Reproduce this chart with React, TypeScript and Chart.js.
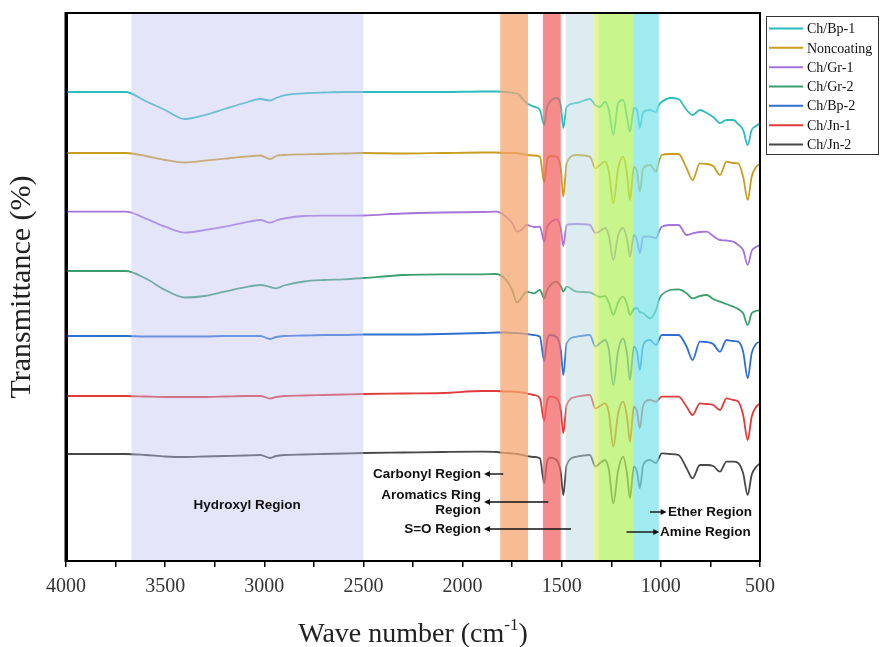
import React, { useEffect, useRef } from "react";
import { Chart, registerables } from "chart.js";
Chart.register(...registerables);

// Wave numbers (cm-1) shared by every spectrum
const waveNumbers = [
  4000, 3700, 3600, 3500, 3400, 3300, 3200, 3100, 3020, 2970,
  2940, 2900, 2800, 2700, 2600, 2500, 2300, 2100, 1900, 1830,
  1780, 1750, 1725, 1700, 1677, 1640, 1610, 1588, 1575, 1560,
  1526, 1505, 1492, 1475, 1425, 1358, 1330, 1307, 1282, 1262,
  1240, 1215, 1190, 1170, 1156, 1136, 1120, 1106, 1089, 1055,
  1024, 1010, 996, 954, 911, 870, 840, 803, 769, 736,
  702, 669, 635, 610, 585, 562, 542, 520, 500,
];

const seriesLabels = ["Ch/Bp-1", "Noncoating", "Ch/Gr-1", "Ch/Gr-2", "Ch/Bp-2", "Ch/Jn-1", "Ch/Jn-2"];
const seriesColors = ["#2bbcbf", "#c99d1f", "#a374d9", "#3b9e6c", "#2f6fcf", "#e03b3b", "#474747"];

// Offset transmittance (arbitrary units, stacked)
const chBp1 = [
  469, 469, 460, 451, 442, 446, 452, 458, 462, 460.5,
  463, 465.7, 467.7, 468.5, 469, 469, 469, 469, 469.5, 469.5,
  469, 468, 467.5, 463, 458, 454.3, 451, 436, 453, 459,
  463, 456, 433, 454, 458, 462, 456, 454, 459, 451,
  426, 458, 461, 443, 429, 453, 451, 433, 449, 451,
  449, 456, 459, 463, 462, 451, 446, 451, 448, 444,
  438, 441, 441, 437, 431, 416, 431, 435, 438,
];
const noncoating = [
  408, 408, 405, 401, 398.5, 400.3, 402.3, 404.3, 405.5, 402,
  405, 406, 406.7, 407, 407.5, 408, 407.5, 408, 408.5, 408.5,
  408, 408, 408, 407, 406, 405.5, 404.3, 378.3, 399, 405,
  404.3, 393, 364.3, 397.7, 406, 404.3, 392.7, 396, 399.3, 389,
  357.7, 393, 404.3, 386, 361, 394.3, 389, 369.3, 392.7, 396,
  389.3, 399, 406, 407, 407, 392.7, 381, 397.7, 397, 395,
  386, 399.3, 398, 397.7, 384.3, 361, 384.3, 394, 397,
];
const chGr1 = [
  349.3, 349.3, 342.7, 334.3, 328.3, 331, 334.3, 338.3, 341, 338.3,
  340.5, 342.5, 345, 345.3, 345.3, 345.5, 347.5, 348.5, 349, 349.3,
  344.3, 338, 329.3, 331.5, 336, 334, 334.3, 319.3, 333, 337.7,
  341.7, 333, 315, 336, 337, 336, 328, 330, 333, 325,
  301, 326, 333, 321, 304.3, 326, 321, 308, 324.3, 324.3,
  323, 329, 334.3, 336, 336, 326, 327.7, 329, 329.3, 325,
  321, 320.5, 319.3, 316, 311, 296, 310, 314, 316,
];
const chGr2 = [
  290, 290, 282.7, 271, 263.5, 265, 269.3, 273.7, 276, 274,
  272.7, 275.5, 279.5, 281, 281.7, 283, 286, 286.7, 286.7, 287,
  281, 271, 258.3, 264, 269.3, 267.7, 271, 262.7, 270, 275,
  279.3, 275, 269.3, 274.3, 269.3, 268.7, 266, 264, 265, 258,
  246, 259, 264.3, 256, 246, 252, 253, 249, 248, 242.7,
  251, 261, 266, 271, 271.7, 267.7, 262.7, 265, 266, 262,
  259.3, 257, 254.3, 252, 247.7, 236, 247.7, 250, 251,
];
const chBp2 = [
  225, 225, 224.5, 224.5, 224.5, 224.5, 225, 225, 225, 222,
  224, 225, 225.5, 226, 226, 226.5, 226.5, 227, 228, 228.5,
  228.5, 228, 228, 227.5, 227, 226, 224.3, 200, 219, 226,
  224, 211, 186, 217.7, 224.3, 226, 214.3, 218, 221, 211,
  176, 211, 222.7, 206, 181, 214.3, 209, 191, 216, 221,
  216, 221, 226, 226, 226, 214.3, 201, 219.3, 219, 217,
  209.3, 221, 220, 219.3, 209.3, 182.7, 207.7, 217, 219.3,
];
const chJn1 = [
  165, 165, 164.5, 164, 164, 164, 164.5, 165, 165, 162.5,
  164, 165, 165.5, 166, 166.5, 167, 167.5, 168, 170, 170,
  169.5, 169.5, 169, 168.5, 167.7, 166, 162.7, 140, 158, 164.3,
  162.7, 151, 127.7, 156, 164.3, 166, 152.7, 155, 157.7, 148,
  114.3, 148, 159.3, 143, 119.3, 154.3, 149, 132.7, 156, 161,
  159.3, 162, 164.3, 164.3, 164.3, 154.3, 146, 157.7, 157, 156,
  151, 162.7, 161, 159.3, 146, 121, 144.3, 154, 157.7,
];
const chJn2 = [
  107, 107, 106, 104.5, 104, 104.5, 105, 105.5, 106, 103,
  105, 106, 106.5, 107, 107.5, 108, 108.5, 109, 109.3, 109,
  108, 107.5, 107, 106, 105, 104, 102.7, 77.7, 98, 103.3,
  101, 89, 66, 96, 104.3, 106, 94.3, 98, 101, 91,
  57.7, 91, 104.3, 86, 62.7, 94.3, 89, 72.7, 96, 101,
  98, 103, 107.7, 107, 106, 92.7, 82.7, 96, 96, 95,
  89.3, 99.3, 99.3, 98, 87.7, 66, 86, 94, 97.7,
];
const seriesValues = [chBp1, noncoating, chGr1, chGr2, chBp2, chJn1, chJn2];

// Highlighted regions (cm-1)
const bandStarts = [3670, 1810, 1595, 1480, 1337, 1315, 1140];
const bandEnds = [2500, 1670, 1505, 1337, 1315, 1140, 1010];
const bandColors = [
  "rgba(192,192,242,0.42)",
  "rgba(244,166,112,0.75)",
  "rgba(241,100,100,0.75)",
  "rgba(185,217,225,0.5)",
  "rgba(222,240,110,0.7)",
  "rgba(176,241,91,0.7)",
  "rgba(119,226,234,0.7)",
];

// Region annotations
const annotationTexts = ["Hydroxyl Region", "Carbonyl Region", "Aromatics Ring", "Region", "S=O Region", "Ether Region", "Amine Region"];
const annotationX = [3087, 1907, 1907, 1907, 1907, 964, 1004];
const annotationY = [56, 87, 66, 51, 32, 49, 29];
const annotationAlign = ["center", "right", "right", "right", "right", "left", "left"];
const arrowFrom = [1795, 1568, 1453, 1055, 1173];
const arrowTo = [1892, 1892, 1892, 971, 1008];
const arrowY = [87, 59, 32, 49, 29];

const xMin = 500;
const xMax = 4000;
const xStep = 250;
const xLabelStep = 500;

const SERIF = "'Liberation Serif', 'Times New Roman', serif";

const overlayPlugin = {
  id: "overlay",
  afterDatasetsDraw(chart: any) {
    const { ctx, chartArea, scales } = chart;
    const xs = scales.x;
    ctx.save();
    ctx.beginPath();
    ctx.rect(chartArea.left, chartArea.top, chartArea.right - chartArea.left, chartArea.bottom - chartArea.top);
    ctx.clip();
    for (let i = 0; i < bandStarts.length; i++) {
      const a = xs.getPixelForValue(bandStarts[i]);
      const b = xs.getPixelForValue(bandEnds[i]);
      ctx.fillStyle = bandColors[i];
      ctx.fillRect(Math.min(a, b), chartArea.top, Math.abs(b - a), chartArea.bottom - chartArea.top);
    }
    ctx.restore();
  },
  afterDraw(chart: any) {
    const { ctx, chartArea, scales } = chart;
    const xs = scales.x;
    const ys = scales.y;
    ctx.save();
    // frame
    ctx.strokeStyle = "#000";
    ctx.lineWidth = 2;
    ctx.strokeRect(chartArea.left, chartArea.top, chartArea.right - chartArea.left, chartArea.bottom - chartArea.top);
    ctx.lineWidth = 3;
    ctx.beginPath();
    ctx.moveTo(chartArea.left, chartArea.top - 1);
    ctx.lineTo(chartArea.left, chartArea.bottom + 1);
    ctx.stroke();

    // annotations
    ctx.fillStyle = "#111";
    ctx.font = "bold 13.5px 'Liberation Sans', Arial, sans-serif";
    ctx.textBaseline = "middle";
    for (let i = 0; i < annotationTexts.length; i++) {
      ctx.textAlign = annotationAlign[i] as CanvasTextAlign;
      ctx.fillText(annotationTexts[i], xs.getPixelForValue(annotationX[i]), ys.getPixelForValue(annotationY[i]));
    }
    ctx.strokeStyle = "#111";
    ctx.lineWidth = 1.4;
    for (let i = 0; i < arrowFrom.length; i++) {
      const x1 = xs.getPixelForValue(arrowFrom[i]);
      const x2 = xs.getPixelForValue(arrowTo[i]);
      const y = ys.getPixelForValue(arrowY[i]);
      const dir = x2 > x1 ? 1 : -1;
      ctx.beginPath();
      ctx.moveTo(x1, y);
      ctx.lineTo(x2 - dir * 4, y);
      ctx.stroke();
      ctx.beginPath();
      ctx.moveTo(x2, y);
      ctx.lineTo(x2 - dir * 6, y - 3);
      ctx.lineTo(x2 - dir * 6, y + 3);
      ctx.closePath();
      ctx.fill();
    }

    // legend
    const lx = chartArea.right + 6;
    const ly = chartArea.top + 3;
    ctx.strokeStyle = "#333";
    ctx.lineWidth = 1;
    ctx.strokeRect(lx + 0.5, ly + 0.5, 112, 138);
    ctx.font = "14px " + SERIF;
    ctx.textAlign = "left";
    ctx.textBaseline = "middle";
    chart.data.datasets.forEach((ds: any, i: number) => {
      const y = ly + 12.5 + i * 19.33;
      ctx.strokeStyle = ds.borderColor;
      ctx.lineWidth = 2;
      ctx.beginPath();
      ctx.moveTo(lx + 3, y);
      ctx.lineTo(lx + 37, y);
      ctx.stroke();
      ctx.fillStyle = "#111";
      ctx.fillText(ds.label, lx + 41, y + 1);
    });

    // axis titles
    ctx.fillStyle = "#222";
    ctx.textBaseline = "alphabetic";
    const main = "Wave number (cm";
    const sup = "-1";
    const close = ")";
    ctx.font = "28px " + SERIF;
    const wMain = ctx.measureText(main).width;
    const wClose = ctx.measureText(close).width;
    ctx.font = "17px " + SERIF;
    const wSup = ctx.measureText(sup).width;
    const total = wMain + wSup + wClose;
    const cx = (chartArea.left + chartArea.right) / 2;
    const x0 = cx - total / 2;
    const base = 642;
    ctx.font = "28px " + SERIF;
    ctx.textAlign = "left";
    ctx.fillText(main, x0, base);
    ctx.font = "17px " + SERIF;
    ctx.fillText(sup, x0 + wMain, base - 12);
    ctx.font = "28px " + SERIF;
    ctx.fillText(close, x0 + wMain + wSup, base);

    ctx.translate(22, (chartArea.top + chartArea.bottom) / 2);
    ctx.rotate(-Math.PI / 2);
    ctx.textAlign = "center";
    ctx.textBaseline = "middle";
    ctx.font = "30px " + SERIF;
    ctx.fillText("Transmittance (%)", 0, 0);
    ctx.restore();
  },
};

export default function App() {
  const ref = useRef<HTMLCanvasElement | null>(null);
  useEffect(() => {
    document.body.style.margin = "0";
    const canvas = ref.current;
    if (!canvas) return;
    const chart = new Chart(canvas, {
      type: "line",
      data: {
        datasets: seriesLabels.map((label, i) => ({
          label,
          data: waveNumbers.map((w, j) => ({ x: w, y: seriesValues[i][j] })),
          borderColor: seriesColors[i],
          backgroundColor: seriesColors[i],
          borderWidth: 1.8,
          pointRadius: 0,
          cubicInterpolationMode: "monotone",
          fill: false,
        })),
      },
      options: {
        responsive: false,
        animation: false,
        layout: { padding: { left: 0, top: 13, right: 120, bottom: 0 } },
        plugins: { legend: { display: false }, tooltip: { enabled: false } },
        scales: {
          x: {
            type: "linear",
            reverse: true,
            min: xMin,
            max: xMax,
            afterFit: (scale: any) => {
              scale.height = 86;
            },
            ticks: {
              stepSize: xStep,
              autoSkip: false,
              maxRotation: 0,
              padding: 8,
              color: "#333",
              font: { family: SERIF, size: 20 },
              callback: (v: any) => (Number(v) % xLabelStep === 0 ? String(v) : ""),
            },
            grid: { display: true, drawOnChartArea: false, drawTicks: true, tickLength: 6, color: "#000", lineWidth: 1.5 },
            border: { display: true, color: "#000", width: 2 },
          },
          y: {
            type: "linear",
            min: 0,
            max: 548,
            afterFit: (scale: any) => {
              scale.width = 66;
            },
            ticks: { display: false },
            grid: { display: false },
            border: { display: true, color: "#000", width: 3 },
          },
        },
      },
      plugins: [overlayPlugin],
    } as any);
    return () => chart.destroy();
  }, []);
  return (
    <div style={{ width: 880, height: 647 }}>
      <canvas ref={ref} width={880} height={647} style={{ display: "block" }} />
    </div>
  );
}
